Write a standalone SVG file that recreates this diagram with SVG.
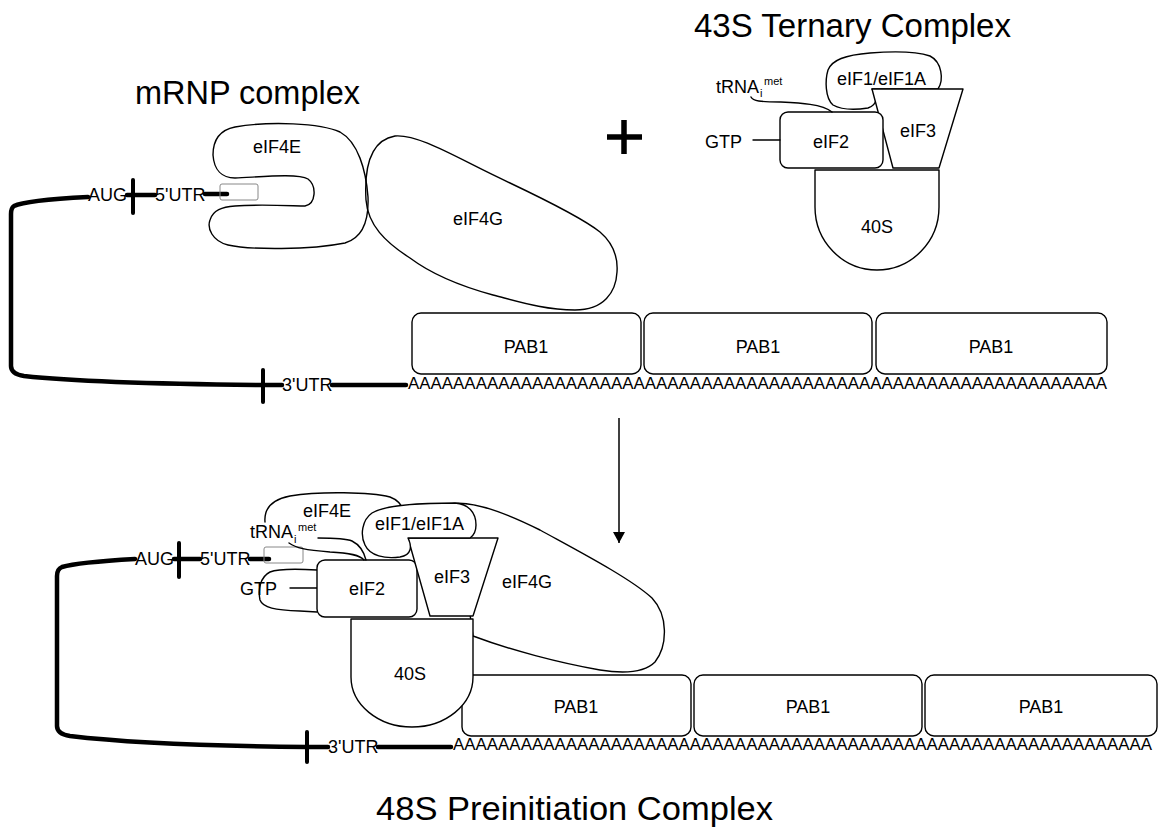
<svg xmlns="http://www.w3.org/2000/svg" width="1163" height="832" viewBox="0 0 1163 832">
  <style>
    .shape { fill: #fff; stroke: #000; stroke-width: 1.4; stroke-linejoin: round; }
    .open { fill: none; stroke: #000; stroke-width: 1.4; stroke-linecap: round; }
    .rna { fill: none; stroke: #000; stroke-width: 4.5; stroke-linecap: round; stroke-linejoin: round; }
    .tick { stroke: #000; stroke-width: 4; stroke-linecap: round; }
    .cap { fill: none; stroke: #888; stroke-width: 1; }
    .lbl { font-family: "Liberation Sans", Arial, sans-serif; font-size: 18px; fill: #000; }
    .polya { font-family: "Liberation Sans", Arial, sans-serif; font-size: 16.8px; fill: #000; }
    .mid { text-anchor: middle; }
    .sm { font-size: 11px; }
    .title { font-family: "Liberation Sans", Arial, sans-serif; font-size: 33px; fill: #000; }
  </style>
  <defs>
    <marker id="arrowhead" markerWidth="12" markerHeight="12" refX="11" refY="6" orient="auto" markerUnits="userSpaceOnUse">
      <path d="M0,0 L11,6 L0,12 Z" fill="#000"/>
    </marker>
  </defs>

  <rect width="1163" height="832" fill="#fff"/>

  <!-- titles -->
  <text class="title" x="135" y="104" textLength="225" lengthAdjust="spacingAndGlyphs">mRNP complex</text>
  <text class="title" x="694" y="37" textLength="317" lengthAdjust="spacingAndGlyphs">43S Ternary Complex</text>
  <text class="title" x="376" y="820" textLength="397" lengthAdjust="spacingAndGlyphs">48S Preinitiation Complex</text>

  <!-- plus sign -->
  <g id="plus">
    <path d="M607 137 H642 M624 120 V154" stroke="#000" stroke-width="5.5"/>
  </g>

  <!-- ===== mRNP complex (top) ===== -->
  <g id="mrna-top">
    <path class="rna" d="M88 197 C50 199 22 202 14 206 Q11 208 11 214 L11 366 Q11 374 24 376 C70 381 150 384 263 385"/>
    <line class="tick" x1="133" y1="180" x2="133" y2="213"/>
    <path class="rna" d="M127 195 H155"/>
    <path class="rna" d="M205 194 H227"/>
    <line class="tick" x1="263" y1="370" x2="263" y2="402"/>
    <path class="rna" d="M263 385 H282"/>
    <path class="rna" d="M332 385 H406"/>
    <text class="lbl" x="88" y="201">AUG</text>
    <text class="lbl" x="155" y="201">5'UTR</text>
    <text class="lbl" x="282" y="391">3'UTR</text>
    <text class="polya" x="408" y="389" textLength="699" lengthAdjust="spacingAndGlyphs">AAAAAAAAAAAAAAAAAAAAAAAAAAAAAAAAAAAAAAAAAAAAAAAAAAAAAAAAAAAAAA</text>
  </g>

  <g id="pab1-top">
    <rect class="shape" x="412" y="313" width="229" height="61" rx="9"/>
    <rect class="shape" x="644" y="313" width="228" height="61" rx="9"/>
    <rect class="shape" x="876" y="313" width="231" height="61" rx="9"/>
    <text class="lbl mid" x="526" y="353">PAB1</text>
    <text class="lbl mid" x="758" y="353">PAB1</text>
    <text class="lbl mid" x="991" y="353">PAB1</text>
  </g>

  <g id="eif4e-top">
    <path class="open" d="M235 178 C222 178 214 170 213 155 C213 140 220 130 235 127 C270 121 320 123 340 132 C358 142 366 170 368 197 C369 222 362 238 345 243 C310 250 250 250 228 245 C212 241 207 228 210 220 C213 210 222 207 235 206 C260 204 295 206 305 206 C316 204 317 186 308 179 C298 173 260 177 235 178 Z"/>
    <rect class="cap" x="220" y="184" width="38" height="16" rx="2"/>
    <text class="lbl mid" x="277" y="153">eIF4E</text>
  </g>

  <g id="eif4g-top">
    <path class="open" d="M366 200 C364 165 372 140 395 136 C420 134 460 160 510 183 C550 202 585 220 600 232 C614 244 618 258 617 272 C616 292 604 310 575 310 C545 310 520 302 493 295 C460 286 430 273 410 258 C385 242 368 225 366 200 Z"/>
    <text class="lbl mid" x="478" y="225">eIF4G</text>
  </g>

  <!-- ===== 43S ternary complex ===== -->
  <g id="eif1-top">
    <path class="shape" d="M872 89 C877 95 879 104 868 108 C855 110 842 110 833 105 C825 98 825 80 828 70 C832 60 845 55 870 53 C895 51 915 51 930 56 C942 62 944 80 938 89 Z"/>
    <text class="lbl" x="837" y="85">eIF1/eIF1A</text>
  </g>
  <g id="eif3-top">
    <polygon class="shape" points="872,89 963,89 939,168 893,168"/>
    <text class="lbl mid" x="918" y="137">eIF3</text>
  </g>
  <g id="eif2-top">
    <rect class="shape" x="780" y="112" width="103" height="56" rx="8"/>
    <text class="lbl mid" x="831" y="148">eIF2</text>
  </g>
  <g id="s40-top">
    <path class="shape" d="M815 170 L939 170 L939 207 A62 63 0 0 1 815 207 Z"/>
    <text class="lbl mid" x="877" y="233">40S</text>
  </g>
  <g id="trna-top">
    <path class="open" d="M751 97 C753 101 760 102 780 102 C800 103 822 104 832 112"/>
    <text class="lbl" x="716" y="93">tRNA</text>
    <text class="lbl sm" x="760" y="97">i</text>
    <text class="lbl sm" x="764" y="85">met</text>
  </g>
  <g id="gtp-top">
    <path class="open" d="M753 140 H780"/>
    <text class="lbl" x="705" y="148">GTP</text>
  </g>

  <!-- transition arrow -->
  <g id="connectors">
    <line x1="619" y1="418" x2="619" y2="543" stroke="#000" stroke-width="1.5" marker-end="url(#arrowhead)"/>
  </g>

  <!-- ===== 48S preinitiation complex (bottom) ===== -->
  <g id="mrna-bottom">
    <path class="rna" d="M135 559 C100 561 72 564 62 567 Q57 569 57 576 L57 726 Q57 734 70 736 C120 742 200 746 307 747"/>
    <line class="tick" x1="179" y1="543" x2="179" y2="577"/>
    <path class="rna" d="M174 559 H200"/>
    <path class="rna" d="M250 559 H269"/>
    <line class="tick" x1="307" y1="732" x2="307" y2="762"/>
    <path class="rna" d="M307 747 H328"/>
    <path class="rna" d="M378 747 H451"/>
    <text class="lbl" x="135" y="565">AUG</text>
    <text class="lbl" x="200" y="565">5'UTR</text>
    <text class="lbl" x="328" y="753">3'UTR</text>
    <text class="polya" x="453" y="750" textLength="699" lengthAdjust="spacingAndGlyphs">AAAAAAAAAAAAAAAAAAAAAAAAAAAAAAAAAAAAAAAAAAAAAAAAAAAAAAAAAAAAAA</text>
    <rect class="cap" x="264" y="547" width="39" height="16" rx="2"/>
  </g>

  <g id="pab1-bottom">
    <rect class="shape" x="462" y="675" width="229" height="61" rx="9"/>
    <rect class="shape" x="694" y="675" width="228" height="61" rx="9"/>
    <rect class="shape" x="925" y="675" width="232" height="61" rx="9"/>
    <text class="lbl mid" x="576" y="713">PAB1</text>
    <text class="lbl mid" x="808" y="713">PAB1</text>
    <text class="lbl mid" x="1041" y="713">PAB1</text>
  </g>

  <g id="eif4g-bottom">
    <path class="shape" d="M450 504 C470 500 500 510 540 530 C580 552 630 578 652 598 C668 615 668 645 655 662 C645 672 625 674 600 670 C560 663 510 650 473 636 L468 600 L455 520 Z"/>
    <text class="lbl" x="502" y="588">eIF4G</text>
  </g>
  <g id="s40-bottom">
    <path class="shape" d="M351 619 L473 619 L473 677 A61 50 0 0 1 351 677 Z"/>
    <text class="lbl mid" x="410" y="680">40S</text>
  </g>
  <g id="gtp-bottom">
    <path class="open" d="M317 570 C300 569 280 568 270 572 C260 577 258 590 260 600 C263 608 275 610 300 611 L317 612"/>
    <path class="open" d="M290 588 H317"/>
    <text class="lbl" x="240" y="595">GTP</text>
  </g>
  <g id="eif2-bottom">
    <rect class="shape" x="317" y="560" width="100" height="57" rx="8"/>
    <text class="lbl mid" x="367" y="595">eIF2</text>
  </g>
  <g id="eif3-bottom">
    <polygon class="shape" points="408,538 498,538 473,616 430,616"/>
    <text class="lbl mid" x="452" y="583">eIF3</text>
  </g>
  <g id="eif4e-bottom">
    <path class="open" d="M265 522 C264 510 270 500 290 496 C320 491 370 492 390 497 C398 500 402 505 404 512"/>
    <path class="open" d="M318 538 C330 538 345 538 352 541 C360 545 364 552 366 560"/>
    <text class="lbl" x="303" y="517">eIF4E</text>
  </g>
  <g id="trna-bottom">
    <path class="open" d="M289 543 C296 548 305 550 330 552 C350 553 360 555 364 560"/>
    <text class="lbl" x="250" y="538">tRNA</text>
    <text class="lbl sm" x="294" y="543">i</text>
    <text class="lbl sm" x="298" y="531">met</text>
  </g>
  <g id="eif1-bottom">
    <path class="shape" d="M408 538 C412 546 412 555 400 557 C385 559 370 556 365 545 C360 535 362 520 372 513 C385 505 420 503 455 503 C468 504 476 512 476 525 C476 532 473 536 470 538 Z"/>
    <text class="lbl" x="375" y="530">eIF1/eIF1A</text>
  </g>
</svg>
